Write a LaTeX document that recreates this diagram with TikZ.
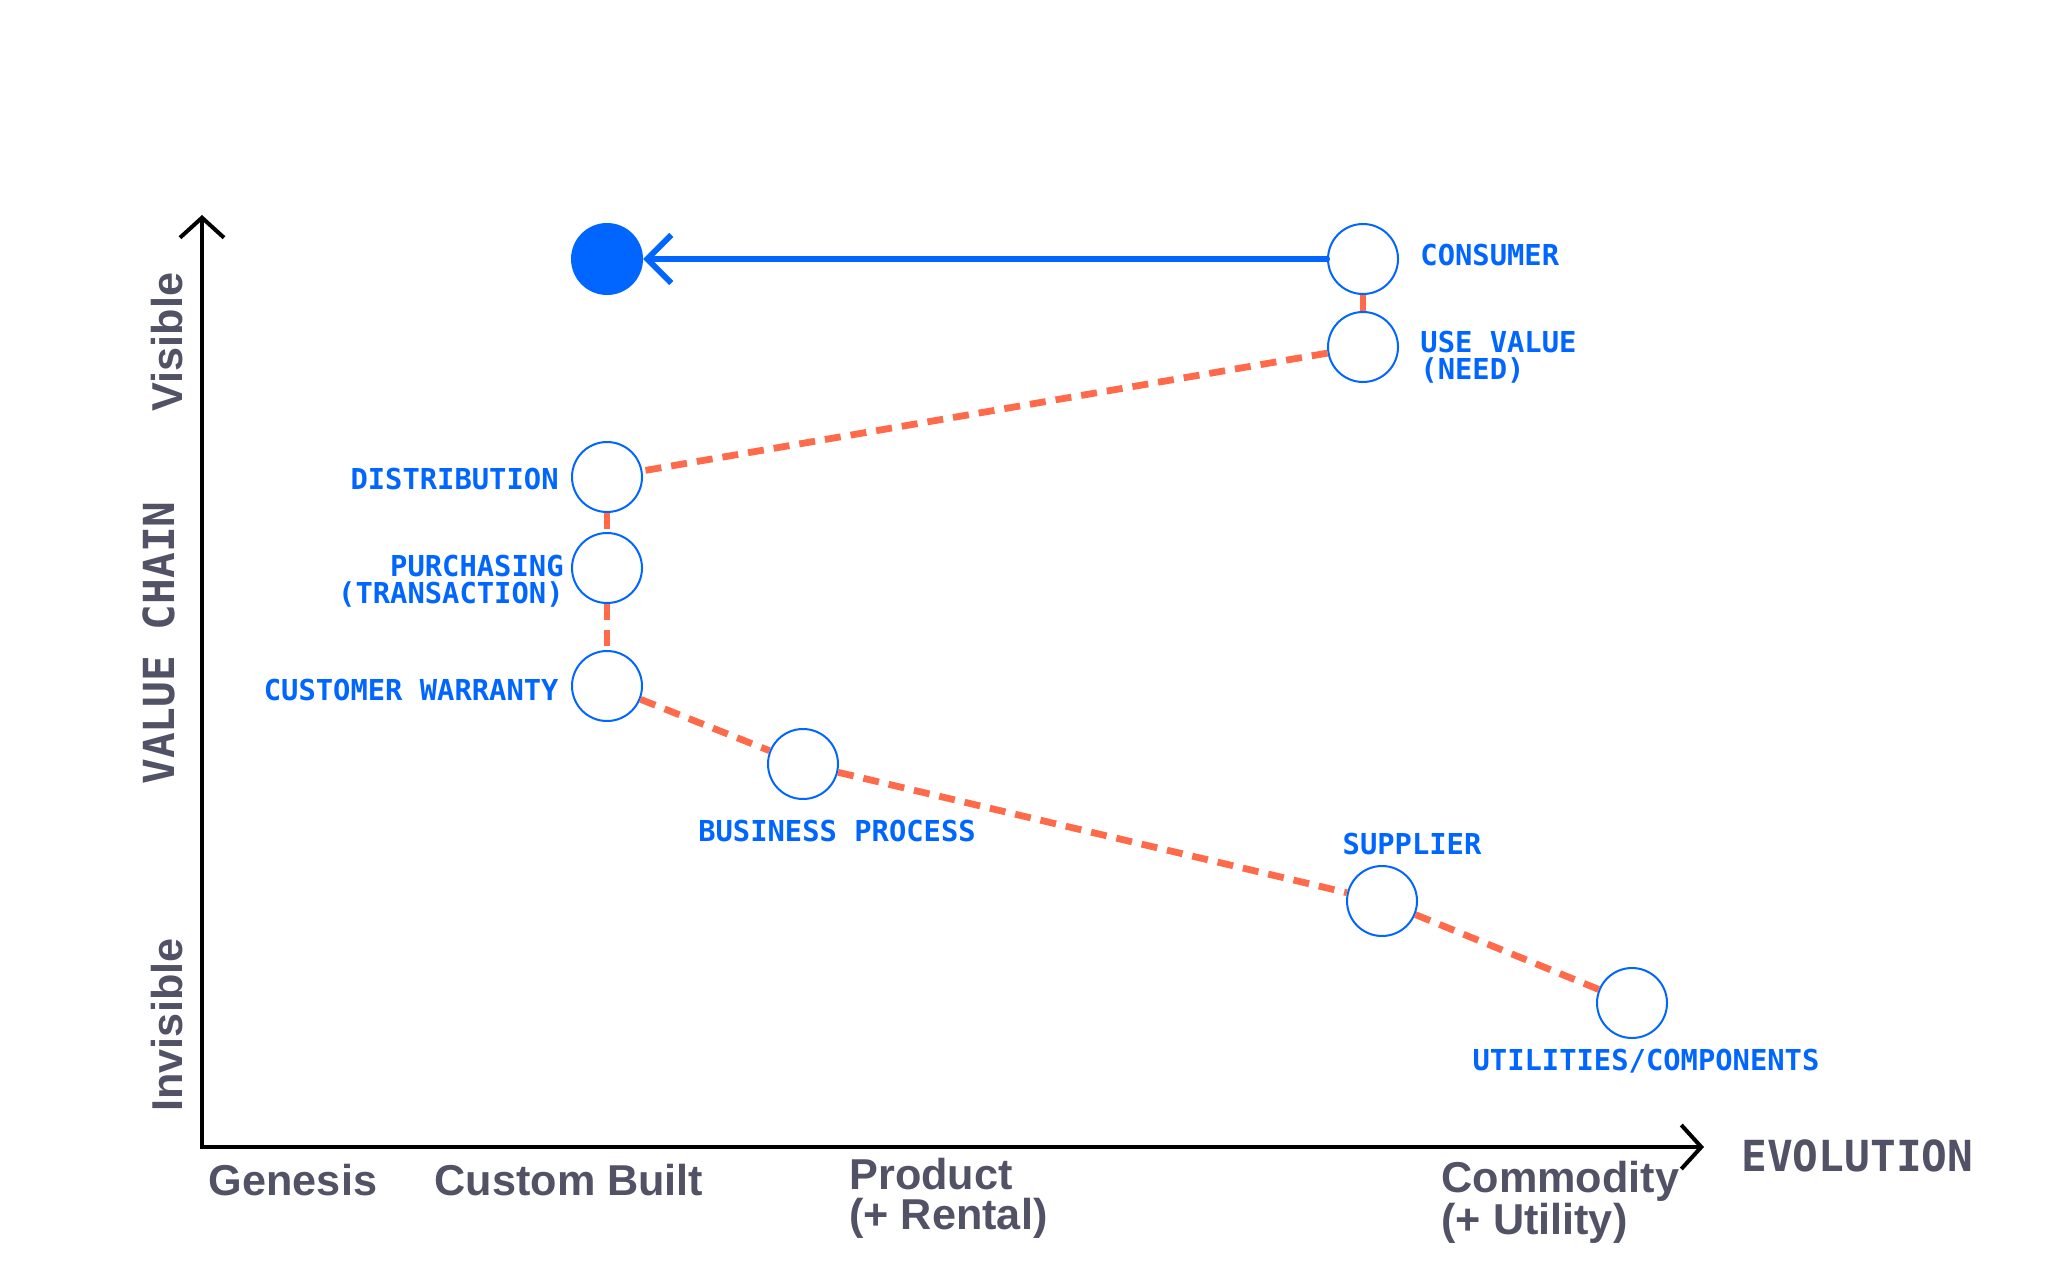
\documentclass[tikz,border=0pt]{standalone}
\usepackage{fontspec}
\setmainfont{Liberation Sans}
\newfontfamily\monofont{DejaVu Sans Mono}
\usetikzlibrary{arrows.meta}
\definecolor{wblue}{RGB}{0,102,255}
\definecolor{worange}{RGB}{255,107,74}
\definecolor{wgrey}{RGB}{82,82,102}
\begin{document}
\begin{tikzpicture}[x=0.5pt,y=-0.5pt,
 comp/.style={circle, draw=wblue, line width=1pt, fill=white, minimum size=35pt, inner sep=0pt},
 lbl/.style={text=wblue, font=\monofont\bfseries\fontsize{14.4}{13.5}\selectfont, inner sep=0pt},
 link/.style={draw=worange, line width=3.4pt, dash pattern=on 8pt off 5pt},
 axisline/.style={line width=2pt, line join=miter, {Straight Barb[length=10pt,width=22pt,line width=2pt]}-{Straight Barb[length=10pt,width=22pt,line width=2pt]}},
 stage/.style={text=wgrey, font=\bfseries\fontsize{21.6}{20}\selectfont, inner sep=0pt, align=left},
 axlbl/.style={text=wgrey, font=\monofont\bfseries\fontsize{21.4}{20}\selectfont, inner sep=0pt},
]
\useasboundingbox (0,0) rectangle (2048,1278);

% axes
\coordinate (origin) at (202,1147);
\coordinate (ytip) at (202,215);
\coordinate (xtip) at (1704,1147);
\draw[axisline] (ytip) -- (origin) -- (xtip);

% axis labels
\node[stage, rotate=90] (visible) at (167,342) {Visible};
\node[axlbl, rotate=90] (valuechain) at (159,643) {VALUE CHAIN};
\node[stage, rotate=90] (invisible) at (167,1025) {Invisible};
\node[axlbl, anchor=west] (evolution) at (1741,1156) {EVOLUTION};
\node[stage] (genesis) at (293,1180) {Genesis};
\node[stage] (custom) at (569,1180) {Custom Built};
\node[stage, anchor=west] (product) at (849,1198) {Product\\(+ Rental)};
\node[stage, anchor=west] (commodity) at (1441,1202) {Commodity\\(+ Utility)};

% components
\node[comp, fill=wblue] (target) at (607,259) {};
\node[comp] (consumer) at (1363,259) {};
\node[comp] (usevalue) at (1363,347) {};
\node[comp] (distribution) at (607,477) {};
\node[comp] (purchasing) at (607,568) {};
\node[comp] (warranty) at (607,686) {};
\node[comp] (business) at (803,764) {};
\node[comp] (supplier) at (1382,901) {};
\node[comp] (utilities) at (1632,1003) {};

% links
\draw[link] (consumer) -- (usevalue);
\draw[link] (usevalue) -- (distribution);
\draw[link] (distribution) -- (purchasing);
\draw[link] (purchasing) -- (warranty);
\draw[link] (warranty) -- (business);
\draw[link] (business) -- (supplier);
\draw[link] (supplier) -- (utilities);

% movement arrow
\draw[wblue, line width=3pt, line cap=round, -{Straight Barb[length=12pt,width=24pt,line width=3pt]}] (consumer) -- (target);

% labels
\node[lbl, anchor=west] (lconsumer) at (1420,255) {CONSUMER};
\node[lbl, anchor=west, align=left] (lusevalue) at (1420,357) {USE VALUE\\(NEED)};
\node[lbl, anchor=east] (ldistribution) at (559,479) {DISTRIBUTION};
\node[lbl, anchor=east, align=right] (lpurchasing) at (564,581) {PURCHASING\\(TRANSACTION)};
\node[lbl, anchor=east] (lwarranty) at (559,690) {CUSTOMER WARRANTY};
\node[lbl] (lbusiness) at (837,831) {BUSINESS PROCESS};
\node[lbl] (lsupplier) at (1412,844) {SUPPLIER};
\node[lbl] (lutilities) at (1646,1061) {UTILITIES/COMPONENTS};
\end{tikzpicture}
\end{document}
